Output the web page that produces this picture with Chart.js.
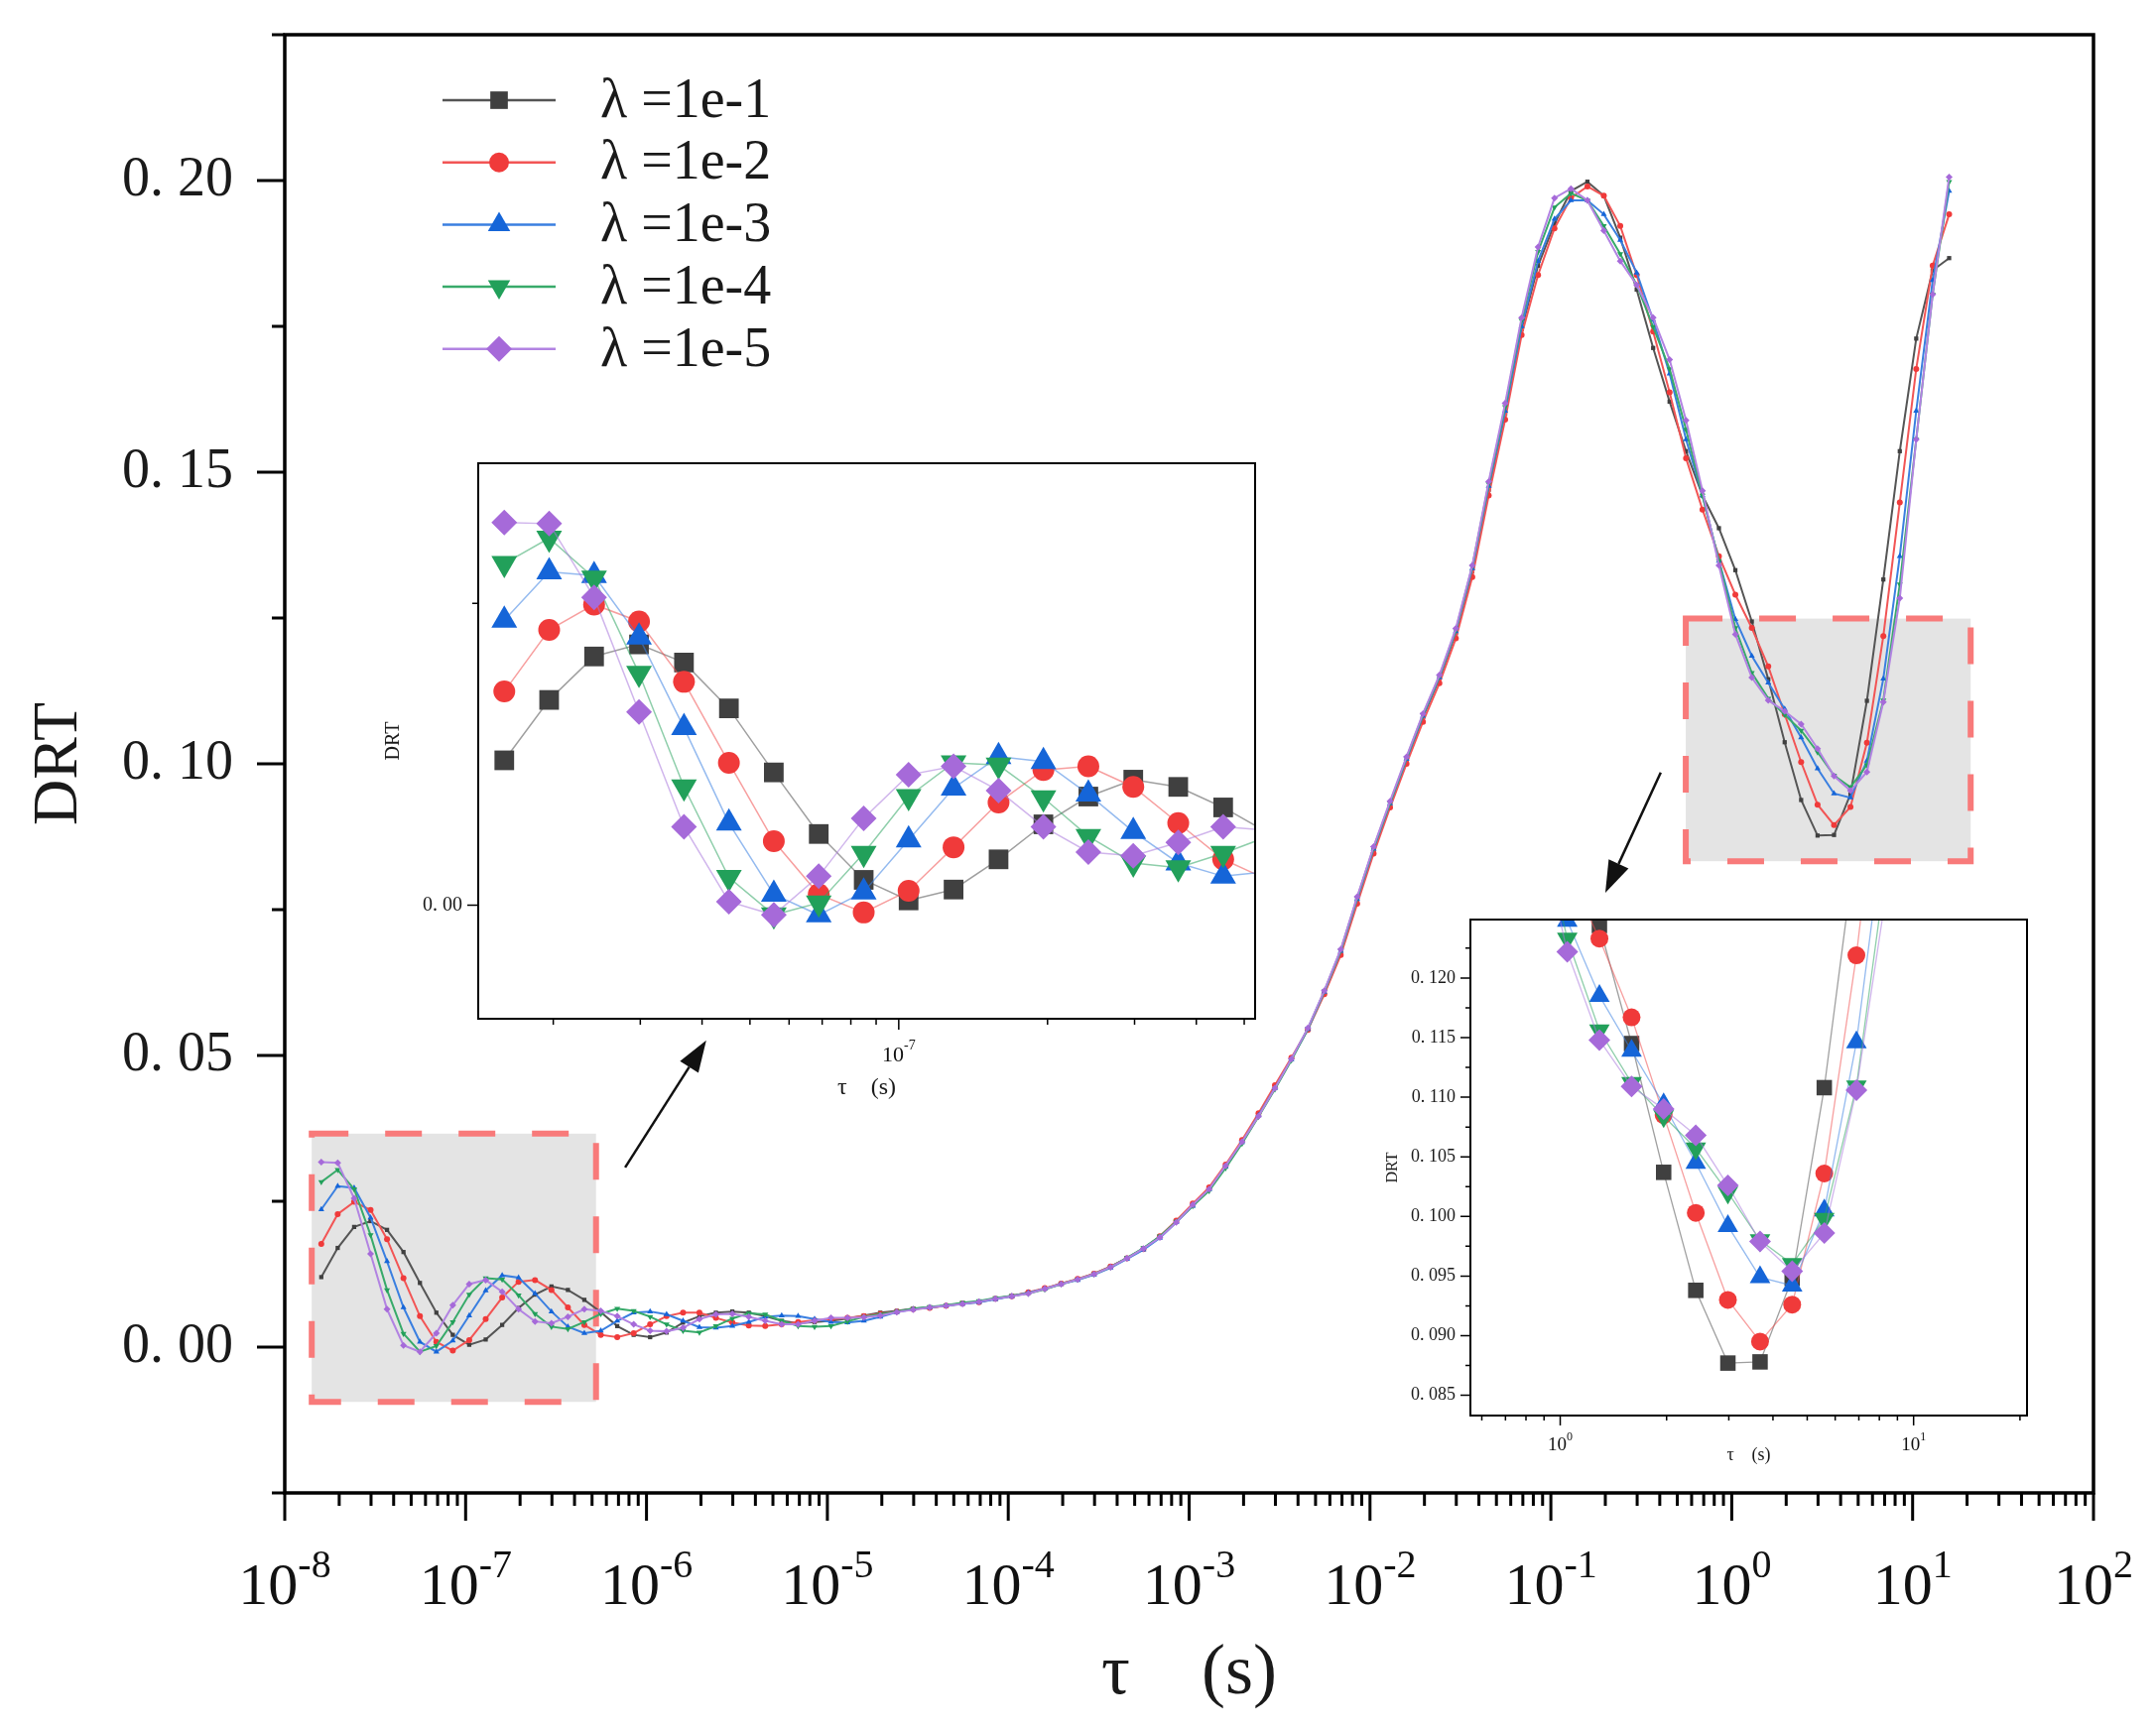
<!DOCTYPE html>
<html>
<head>
<meta charset="utf-8">
<title>DRT</title>
<script src="https://cdn.jsdelivr.net/npm/chart.js@4.4.1/dist/chart.umd.min.js"></script>
<style>
  html, body { margin: 0; padding: 0; background: #fff; }
  #wrap { position: relative; width: 2173px; height: 1744px; }
  #wrap canvas { position: absolute; }
</style>
</head>
<body>
<div id="wrap">
  <canvas id="mainChart" width="2173" height="1744" style="left:0;top:0"></canvas>
  <canvas id="insetLow" width="900" height="700" style="left:380px;top:440px"></canvas>
  <canvas id="insetHigh" width="665" height="590" style="left:1390px;top:900px"></canvas>
</div>
<script>
// relaxation time grid (s), 11 points per decade
const tau = [
  1.592e-8, 1.962e-8, 2.419e-8, 2.982e-8, 3.677e-8, 4.533e-8, 5.588e-8, 6.889e-8, 8.494e-8, 1.047e-7, 1.291e-7,
  1.592e-7, 1.962e-7, 2.419e-7, 2.982e-7, 3.677e-7, 4.533e-7, 5.588e-7, 6.889e-7, 8.494e-7, 1.047e-6, 1.291e-6,
  1.592e-6, 1.962e-6, 2.419e-6, 2.982e-6, 3.677e-6, 4.533e-6, 5.588e-6, 6.889e-6, 8.494e-6, 1.047e-5, 1.291e-5,
  1.592e-5, 1.962e-5, 2.419e-5, 2.982e-5, 3.677e-5, 4.533e-5, 5.588e-5, 6.889e-5, 8.494e-5, 1.047e-4, 1.291e-4,
  1.592e-4, 1.962e-4, 2.419e-4, 2.982e-4, 3.677e-4, 4.533e-4, 5.588e-4, 6.889e-4, 8.494e-4, 1.047e-3, 1.291e-3,
  1.592e-3, 1.962e-3, 2.419e-3, 2.982e-3, 3.677e-3, 4.533e-3, 5.588e-3, 6.889e-3, 8.494e-3, 1.047e-2, 1.291e-2,
  1.592e-2, 1.962e-2, 2.419e-2, 2.982e-2, 3.677e-2, 4.533e-2, 5.588e-2, 6.889e-2, 8.494e-2, 1.047e-1, 1.291e-1,
  1.592e-1, 1.962e-1, 2.419e-1, 2.982e-1, 3.677e-1, 4.533e-1, 5.588e-1, 6.889e-1, 8.494e-1, 1.047, 1.291,
  1.592, 1.962, 2.419, 2.982, 3.677, 4.533, 5.588, 6.889, 8.494, 10.47, 12.91,
  15.92
];

const seriesLabels = ['λ =1e-1', 'λ =1e-2', 'λ =1e-3', 'λ =1e-4', 'λ =1e-5'];

const drt1 = [
  0.0120, 0.0170, 0.0206, 0.0216, 0.0201, 0.0163, 0.0110, 0.0059, 0.0021, 0.0004,
  0.0013, 0.0038, 0.0067, 0.0090, 0.0104, 0.0098, 0.0081, 0.0060, 0.0036, 0.0021,
  0.0017, 0.0025, 0.0042, 0.0053, 0.0059, 0.0061, 0.0059, 0.0053, 0.0045, 0.0041,
  0.0043, 0.0045, 0.0049, 0.0054, 0.0059, 0.0062, 0.0066, 0.0068, 0.0071, 0.0075,
  0.0078, 0.0083, 0.0088, 0.0093, 0.0100, 0.0109, 0.0116, 0.0126, 0.0138, 0.0153,
  0.0169, 0.0189, 0.0215, 0.0243, 0.0271, 0.0310, 0.0352, 0.0398, 0.0446, 0.0494,
  0.0545, 0.0608, 0.0677, 0.0766, 0.0852, 0.0930, 0.1006, 0.1080, 0.1146, 0.1224,
  0.1330, 0.1470, 0.1600, 0.1745, 0.1854, 0.1926, 0.1982, 0.1998, 0.1974, 0.1902,
  0.1813, 0.1713, 0.1621, 0.1536, 0.1460, 0.1404, 0.1332, 0.1244, 0.1145, 0.1037,
  0.0938, 0.0877, 0.0878, 0.0948, 0.1108, 0.1316, 0.1536, 0.1729, 0.1846, 0.1867
];
const drt2 = [
  0.0177, 0.0228, 0.0249, 0.0235, 0.0185, 0.0118, 0.0053, 0.0009, -0.0006, 0.0012,
  0.0048, 0.0085, 0.0112, 0.0115, 0.0098, 0.0068, 0.0038, 0.0021, 0.0017, 0.0024,
  0.0039, 0.0053, 0.0059, 0.0059, 0.0050, 0.0042, 0.0037, 0.0036, 0.0039, 0.0043,
  0.0046, 0.0048, 0.0050, 0.0053, 0.0057, 0.0061, 0.0065, 0.0067, 0.0071, 0.0075,
  0.0077, 0.0083, 0.0087, 0.0094, 0.0101, 0.0109, 0.0117, 0.0126, 0.0138, 0.0152,
  0.0168, 0.0190, 0.0217, 0.0246, 0.0274, 0.0313, 0.0355, 0.0401, 0.0449, 0.0496,
  0.0544, 0.0605, 0.0672, 0.0760, 0.0846, 0.0925, 0.1000, 0.1072, 0.1138, 0.1215,
  0.1320, 0.1460, 0.1590, 0.1735, 0.1838, 0.1918, 0.1970, 0.1990, 0.1974, 0.1922,
  0.1838, 0.1741, 0.1637, 0.1524, 0.1436, 0.1356, 0.1290, 0.1233, 0.1167, 0.1085,
  0.1003, 0.0930, 0.0895, 0.0926, 0.1036, 0.1219, 0.1448, 0.1677, 0.1854, 0.1942
];
const drt3 = [
  0.0236, 0.0276, 0.0273, 0.0222, 0.0147, 0.0068, 0.0009, -0.0008, 0.0011, 0.0054,
  0.0097, 0.0123, 0.0119, 0.0092, 0.0061, 0.0035, 0.0024, 0.0028, 0.0045, 0.0059,
  0.0061, 0.0056, 0.0045, 0.0034, 0.0033, 0.0036, 0.0043, 0.0052, 0.0054, 0.0053,
  0.0048, 0.0043, 0.0042, 0.0045, 0.0052, 0.0060, 0.0065, 0.0068, 0.0071, 0.0074,
  0.0077, 0.0082, 0.0087, 0.0093, 0.0100, 0.0108, 0.0115, 0.0124, 0.0136, 0.0151,
  0.0167, 0.0187, 0.0214, 0.0242, 0.0270, 0.0309, 0.0351, 0.0397, 0.0444, 0.0493,
  0.0545, 0.0609, 0.0679, 0.0768, 0.0854, 0.0932, 0.1008, 0.1082, 0.1148, 0.1227,
  0.1335, 0.1476, 0.1605, 0.1750, 0.1862, 0.1934, 0.1966, 0.1966, 0.1942, 0.1898,
  0.1842, 0.1761, 0.1669, 0.1556, 0.1460, 0.1348, 0.1248, 0.1185, 0.1139, 0.1094,
  0.1045, 0.0992, 0.0949, 0.0942, 0.1005, 0.1146, 0.1356, 0.1605, 0.1829, 0.1982
];
const drt4 = [
  0.0283, 0.0304, 0.0271, 0.0192, 0.0098, 0.0023, -0.0008, 0.0002, 0.0043, 0.0090,
  0.0118, 0.0116, 0.0089, 0.0057, 0.0035, 0.0031, 0.0043, 0.0057, 0.0066, 0.0062,
  0.0052, 0.0039, 0.0028, 0.0025, 0.0036, 0.0049, 0.0058, 0.0056, 0.0045, 0.0036,
  0.0035, 0.0036, 0.0044, 0.0052, 0.0056, 0.0061, 0.0066, 0.0069, 0.0072, 0.0076,
  0.0079, 0.0084, 0.0088, 0.0092, 0.0099, 0.0108, 0.0116, 0.0125, 0.0137, 0.0153,
  0.0170, 0.0190, 0.0215, 0.0242, 0.0268, 0.0307, 0.0349, 0.0395, 0.0442, 0.0492,
  0.0546, 0.0610, 0.0680, 0.0770, 0.0856, 0.0933, 0.1010, 0.1084, 0.1150, 0.1229,
  0.1338, 0.1480, 0.1612, 0.1760, 0.1878, 0.1954, 0.1978, 0.1966, 0.1922, 0.1874,
  0.1821, 0.1749, 0.1677, 0.1573, 0.1460, 0.1348, 0.1233, 0.1156, 0.1112, 0.1084,
  0.1057, 0.1020, 0.0980, 0.0960, 0.0998, 0.1109, 0.1308, 0.1556, 0.1805, 0.1998
];
const drt5 = [
  0.0317, 0.0316, 0.0255, 0.0160, 0.0065, 0.0003, -0.0008, 0.0024, 0.0072, 0.0108,
  0.0115, 0.0095, 0.0065, 0.0044, 0.0041, 0.0052, 0.0065, 0.0062, 0.0053, 0.0039,
  0.0028, 0.0027, 0.0033, 0.0048, 0.0056, 0.0057, 0.0052, 0.0045, 0.0039, 0.0039,
  0.0045, 0.0050, 0.0050, 0.0051, 0.0054, 0.0060, 0.0064, 0.0068, 0.0071, 0.0074,
  0.0078, 0.0083, 0.0087, 0.0092, 0.0100, 0.0108, 0.0116, 0.0125, 0.0137, 0.0152,
  0.0169, 0.0188, 0.0214, 0.0244, 0.0271, 0.0311, 0.0352, 0.0396, 0.0444, 0.0494,
  0.0547, 0.0611, 0.0682, 0.0772, 0.0858, 0.0936, 0.1012, 0.1086, 0.1152, 0.1232,
  0.1340, 0.1484, 0.1618, 0.1765, 0.1886, 0.1970, 0.1986, 0.1966, 0.1914, 0.1862,
  0.1821, 0.1765, 0.1693, 0.1589, 0.1468, 0.1340, 0.1222, 0.1148, 0.1109, 0.1090,
  0.1068, 0.1026, 0.0979, 0.0954, 0.0986, 0.1106, 0.1284, 0.1556, 0.1805, 0.2006
];
const series = [drt1, drt2, drt3, drt4, drt5];

// zoom windows (tau range, DRT range) shown in the two insets
const lowWin = { x: [1.41e-8, 5.26e-7], y: [-0.0094, 0.0366] };
const highWin = { x: [0.557, 20.94], y: [0.0833, 0.1249] };

// arrows from the zoom boxes to the insets, data coords
const arrows = [
  { from: [7.62e-7, 0.0308], to: [2.14e-6, 0.0526] },
  { from: [0.405, 0.0985], to: [0.200, 0.0779] }
];

const SERIF = '"Liberation Serif", "DejaVu Serif", serif';
const markerColors = ['#404040', '#f03a3a', '#1565d8', '#22a05a', '#a66ad9'];
const mainLines = ['#555555', '#f25555', '#3a7fe0', '#38aa6a', '#b283e2'];
const insetLines = ['rgba(80,80,80,0.55)', 'rgba(240,80,80,0.55)', 'rgba(60,130,225,0.55)',
                    'rgba(50,165,100,0.55)', 'rgba(170,120,220,0.55)'];
const shapes = ['rect', 'circle', 'triangle', 'triangle', 'rectRot'];
const turns = [0, 0, 0, 180, 0];

function onStep(v, step) {
  const r = v / step;
  return Math.abs(r - Math.round(r)) < 1e-6;
}
function isDecade(v) {
  const l = Math.log10(v);
  return Math.abs(l - Math.round(l)) < 1e-6;
}
// ticks at 1..9 x 10^n
function decadeTicks(scale) {
  const out = [];
  const lo = Math.floor(Math.log10(scale.min)), hi = Math.ceil(Math.log10(scale.max));
  for (let e = lo; e <= hi; e++) {
    for (let m = 1; m <= 9; m++) {
      const v = m * Math.pow(10, e);
      if (v >= scale.min * 0.9999 && v <= scale.max * 1.0001) out.push({ value: v, major: m === 1 });
    }
  }
  scale.ticks = out;
}
// fixed axis sizes so the plot area sits where it should
function fixH(h) {
  return s => { s.height = h; s.paddingLeft = 0; s.paddingRight = 0; };
}
function fixW(w) {
  return s => { s.width = w; s.paddingTop = 0; s.paddingBottom = 0; };
}

function makeSets(lineColors, lineWidth, radius, clip) {
  return series.map((vals, i) => {
    const ds = {
      label: seriesLabels[i],
      data: tau.map((t, k) => ({ x: t, y: vals[k] })),
      borderColor: lineColors[i],
      borderWidth: lineWidth,
      backgroundColor: markerColors[i],
      pointBackgroundColor: markerColors[i],
      pointBorderColor: markerColors[i],
      pointBorderWidth: 0,
      pointStyle: shapes[i],
      pointRotation: turns[i],
      pointRadius: radius[i],
      tension: 0,
      order: series.length - 1 - i
    };
    if (clip !== undefined) ds.clip = clip;
    return ds;
  });
}

// tick marks, frame, 10^n labels
const axisDeco = {
  id: 'axisDeco',
  afterDraw(chart, args, o) {
    const { ctx, chartArea: a } = chart;
    const xs = chart.scales.x, ys = chart.scales.y;
    ctx.save();
    ctx.strokeStyle = '#000';
    ctx.lineWidth = o.tickWidth;
    ctx.beginPath();
    xs.ticks.forEach(t => {
      const px = xs.getPixelForValue(t.value);
      const len = isDecade(t.value) ? o.major : o.minor;
      ctx.moveTo(px, a.bottom);
      ctx.lineTo(px, a.bottom + len);
    });
    ys.ticks.forEach(t => {
      const py = ys.getPixelForValue(t.value);
      const len = onStep(t.value, o.yStep) ? o.major : o.minor;
      ctx.moveTo(a.left, py);
      ctx.lineTo(a.left - len, py);
    });
    ctx.stroke();
    ctx.lineWidth = o.frame;
    ctx.strokeRect(a.left, a.top, a.right - a.left, a.bottom - a.top);

    ctx.fillStyle = '#111';
    ctx.textAlign = 'left';
    ctx.textBaseline = 'alphabetic';
    const baseFont = o.base + 'px ' + SERIF, supFont = o.sup + 'px ' + SERIF;
    xs.ticks.forEach(t => {
      if (!isDecade(t.value)) return;
      const ex = String(Math.round(Math.log10(t.value)));
      const px = xs.getPixelForValue(t.value);
      ctx.font = baseFont;
      const w1 = ctx.measureText('10').width;
      ctx.font = supFont;
      const w2 = ctx.measureText(ex).width;
      const x0 = px - (w1 + w2) / 2;
      ctx.font = baseFont;
      ctx.fillText('10', x0, a.bottom + o.labelDy);
      ctx.font = supFont;
      ctx.fillText(ex, x0 + w1, a.bottom + o.labelDy - o.supRise);
    });
    ctx.restore();
  }
};

// grey dashed zoom boxes under the curves, arrows above them
const zoomBoxes = {
  id: 'zoomBoxes',
  beforeDatasetsDraw(chart, args, o) {
    const { ctx } = chart;
    const xs = chart.scales.x, ys = chart.scales.y;
    ctx.save();
    o.boxes.forEach(b => {
      const x1 = xs.getPixelForValue(b.x[0]), x2 = xs.getPixelForValue(b.x[1]);
      const y1 = ys.getPixelForValue(b.y[1]), y2 = ys.getPixelForValue(b.y[0]);
      ctx.fillStyle = '#e4e4e4';
      ctx.fillRect(x1, y1, x2 - x1, y2 - y1);
      ctx.setLineDash([37, 37]);
      ctx.lineWidth = 6;
      ctx.strokeStyle = '#f87a7a';
      ctx.strokeRect(x1, y1, x2 - x1, y2 - y1);
    });
    ctx.restore();
  },
  afterDatasetsDraw(chart, args, o) {
    const { ctx } = chart;
    const xs = chart.scales.x, ys = chart.scales.y;
    ctx.save();
    ctx.strokeStyle = '#111';
    ctx.fillStyle = '#111';
    ctx.lineWidth = 2.5;
    o.arrows.forEach(ar => {
      const x1 = xs.getPixelForValue(ar.from[0]), y1 = ys.getPixelForValue(ar.from[1]);
      const x2 = xs.getPixelForValue(ar.to[0]), y2 = ys.getPixelForValue(ar.to[1]);
      const ang = Math.atan2(y2 - y1, x2 - x1);
      const hl = 32, hw = 11;
      const bx = x2 - hl * Math.cos(ang), by = y2 - hl * Math.sin(ang);
      ctx.beginPath();
      ctx.moveTo(x1, y1);
      ctx.lineTo(bx, by);
      ctx.stroke();
      ctx.beginPath();
      ctx.moveTo(x2, y2);
      ctx.lineTo(bx + hw * Math.sin(ang), by - hw * Math.cos(ang));
      ctx.lineTo(bx - hw * Math.sin(ang), by + hw * Math.cos(ang));
      ctx.closePath();
      ctx.fill();
    });
    ctx.restore();
  }
};

// legend with line + marker samples
const lineLegend = {
  id: 'lineLegend',
  afterDraw(chart, args, o) {
    const { ctx } = chart;
    ctx.save();
    chart.data.datasets.forEach((ds, i) => {
      const y = o.top + i * o.gap;
      ctx.strokeStyle = ds.borderColor;
      ctx.lineWidth = 2.5;
      ctx.beginPath();
      ctx.moveTo(o.x0, y);
      ctx.lineTo(o.x1, y);
      ctx.stroke();
      ctx.fillStyle = markerColors[i];
      ctx.strokeStyle = markerColors[i];
      Chart.helpers.drawPoint(ctx, { pointStyle: shapes[i], rotation: turns[i], radius: o.radius[i], borderWidth: 0 },
        (o.x0 + o.x1) / 2, y);
      ctx.fillStyle = '#1a1a1a';
      ctx.font = o.font + 'px ' + SERIF;
      ctx.textAlign = 'left';
      ctx.textBaseline = 'middle';
      ctx.fillText(ds.label, o.textX, y + 2);
    });
    ctx.restore();
  }
};

const whiteArea = {
  id: 'whiteArea',
  beforeDatasetsDraw(chart) {
    const { ctx, chartArea: a } = chart;
    ctx.save();
    ctx.fillStyle = '#fff';
    ctx.fillRect(a.left, a.top, a.right - a.left, a.bottom - a.top);
    ctx.restore();
  }
};

function yTicks(step, labelStep, digits, size, pad) {
  return {
    stepSize: step, autoSkip: false, includeBounds: false, padding: pad, color: '#1a1a1a',
    font: { family: SERIF, size: size },
    callback: v => onStep(v, labelStep) ? v.toFixed(digits).replace('.', '. ') : ''
  };
}

// main chart
new Chart(document.getElementById('mainChart'), {
  type: 'line',
  data: { datasets: makeSets(mainLines, 2, [3, 3, 3.5, 3.5, 3.5]) },
  options: {
    responsive: false, animation: false, devicePixelRatio: 1,
    layout: { padding: { top: 35, right: 63, left: 0, bottom: 0 } },
    plugins: {
      legend: { display: false }, tooltip: { enabled: false },
      axisDeco: { major: 28, minor: 13, tickWidth: 3, frame: 3.5, yStep: 0.05, base: 60, sup: 40, labelDy: 112, supRise: 27 },
      zoomBoxes: { boxes: [lowWin, highWin], arrows: arrows },
      lineLegend: { x0: 446, x1: 560, top: 101, gap: 62.7, textX: 605, font: 56, radius: [12.5, 10, 13, 13, 13] }
    },
    scales: {
      x: {
        type: 'logarithmic', min: 1e-8, max: 1e2,
        afterBuildTicks: decadeTicks,
        afterFit: fixH(239),
        ticks: { display: false },
        grid: { display: false, drawTicks: false }, border: { display: false },
        title: { display: true, text: 'τ    (s)', color: '#1a1a1a', font: { family: SERIF, size: 72 }, padding: { top: 0, bottom: 13 } }
      },
      y: {
        type: 'linear', min: -0.025, max: 0.225,
        afterFit: fixW(287),
        ticks: yTicks(0.025, 0.05, 2, 56, 52),
        grid: { display: false, drawTicks: false }, border: { display: false },
        title: { display: true, text: 'DRT', color: '#1a1a1a', font: { family: SERIF, size: 64 }, padding: { top: 22, bottom: 0 } }
      }
    }
  },
  plugins: [zoomBoxes, axisDeco, lineLegend]
});

// inset: short time constants
new Chart(document.getElementById('insetLow'), {
  type: 'line',
  data: { datasets: makeSets(insetLines, 1.5, [14, 11, 15, 15, 13], 0) },
  options: {
    responsive: false, animation: false, devicePixelRatio: 1,
    layout: { padding: { top: 27, right: 9, left: 0, bottom: 0 } },
    plugins: {
      legend: { display: false }, tooltip: { enabled: false },
      axisDeco: { major: 11, minor: 6, tickWidth: 1.5, frame: 2, yStep: 0.05, base: 22, sup: 14, labelDy: 43, supRise: 12 }
    },
    scales: {
      x: {
        type: 'logarithmic', min: lowWin.x[0], max: lowWin.x[1],
        afterBuildTicks: decadeTicks,
        afterFit: fixH(113),
        ticks: { display: false },
        grid: { display: false, drawTicks: false }, border: { display: false },
        title: { display: true, text: 'τ    (s)', color: '#1a1a1a', font: { family: SERIF, size: 24 }, padding: { top: 0, bottom: 29 } }
      },
      y: {
        type: 'linear', min: lowWin.y[0], max: lowWin.y[1],
        afterFit: fixW(102),
        ticks: yTicks(0.025, 0.05, 2, 20, 16),
        grid: { display: false, drawTicks: false }, border: { display: false },
        title: { display: true, text: 'DRT', color: '#1a1a1a', font: { family: SERIF, size: 20 }, padding: { top: 5, bottom: 0 } }
      }
    }
  },
  plugins: [whiteArea, axisDeco]
});

// inset: the minimum near 3 s
new Chart(document.getElementById('insetHigh'), {
  type: 'line',
  data: { datasets: makeSets(insetLines, 1.3, [11, 9, 12, 12, 11], 0) },
  options: {
    responsive: false, animation: false, devicePixelRatio: 1,
    layout: { padding: { top: 27, right: 11, left: 0, bottom: 0 } },
    plugins: {
      legend: { display: false }, tooltip: { enabled: false },
      axisDeco: { major: 10, minor: 5, tickWidth: 1.5, frame: 2, yStep: 0.005, base: 19, sup: 12, labelDy: 35, supRise: 10 }
    },
    scales: {
      x: {
        type: 'logarithmic', min: highWin.x[0], max: highWin.x[1],
        afterBuildTicks: decadeTicks,
        afterFit: fixH(63),
        ticks: { display: false },
        grid: { display: false, drawTicks: false }, border: { display: false },
        title: { display: true, text: 'τ    (s)', color: '#1a1a1a', font: { family: SERIF, size: 18 }, padding: { top: 0, bottom: 12 } }
      },
      y: {
        type: 'linear', min: highWin.y[0], max: highWin.y[1],
        afterFit: fixW(92),
        ticks: yTicks(0.0025, 0.005, 3, 18, 15),
        grid: { display: false, drawTicks: false }, border: { display: false },
        title: { display: true, text: 'DRT', color: '#1a1a1a', font: { family: SERIF, size: 16 }, padding: { top: 4, bottom: 0 } }
      }
    }
  },
  plugins: [whiteArea, axisDeco]
});
</script>
</body>
</html>
